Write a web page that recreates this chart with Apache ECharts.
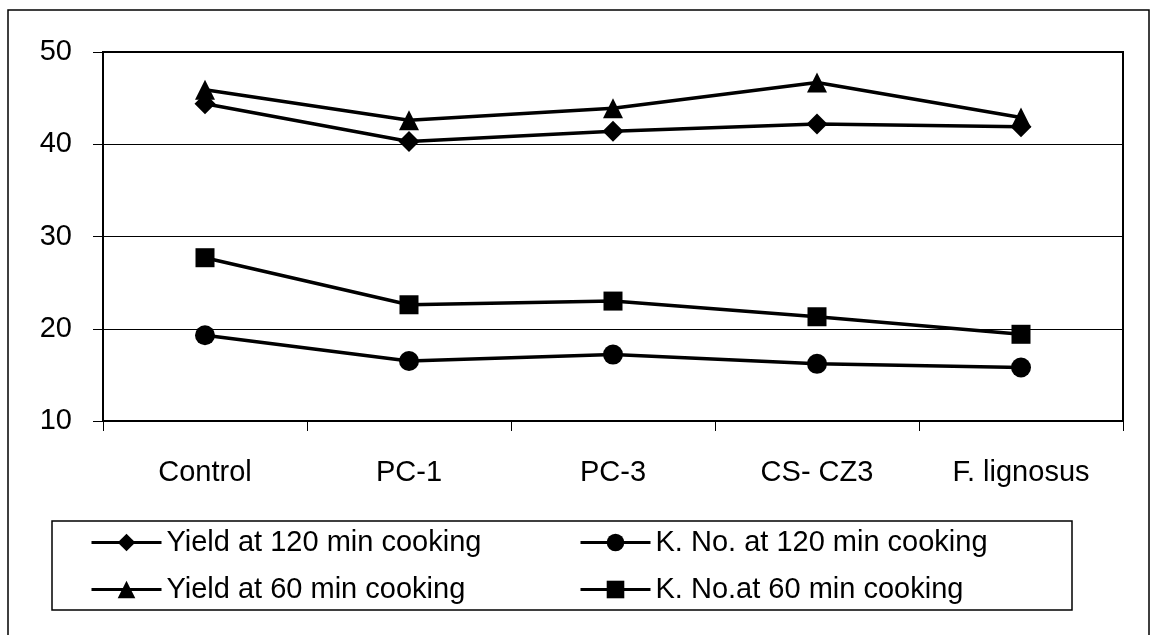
<!DOCTYPE html>
<html>
<head>
<meta charset="utf-8">
<style>
html,body{margin:0;padding:0;background:#fff;}
#chart{width:1156px;height:635px;}
</style>
<script src="https://cdn.jsdelivr.net/npm/echarts@6/dist/echarts.min.js"></script>
</head>
<body>
<div id="chart"></div>
<script>
const categories = ['Control', 'PC-1', 'PC-3', 'CS- CZ3', 'F. lignosus'];
const yield120 = [44.4, 40.3, 41.4, 42.2, 41.9];
const yield60 = [45.9, 42.6, 43.9, 46.7, 42.9];
const kno120 = [19.3, 16.5, 17.2, 16.2, 15.8];
const kno60 = [27.7, 22.6, 23.0, 21.3, 19.4];
const yTicks = {min: 10, max: 50, interval: 10};

const names = {
  y120: 'Yield at 120 min cooking',
  y60: 'Yield at 60 min cooking',
  k120: 'K. No. at 120 min cooking',
  k60: 'K. No.at 60 min cooking'
};

const FONT = 'Liberation Sans, Arial, sans-serif';
const FS = 29;
function lineSeries(name, data, symbol, size) {
  return {
    name: name, type: 'line', data: data,
    symbol: symbol, symbolSize: size,
    itemStyle: {color: '#000'},
    lineStyle: {color: '#000', width: 3.5},
    emphasis: {disabled: true},
    animation: false
  };
}

const chart = echarts.init(document.getElementById('chart'));
const legendCommon = {
  orient: 'vertical', top: 523, itemWidth: 70, itemHeight: 22, itemGap: 18,
  lineStyle: {width: 3, color: '#000'},
  textStyle: {fontFamily: FONT, fontSize: FS, color: '#000'},
  selectedMode: false
};
chart.setOption({
  backgroundColor: '#fff',
  animation: false,
  grid: {left: 103, right: 33, top: 52, bottom: 214, show: true, borderColor: '#000', borderWidth: 2, backgroundColor: 'transparent'},
  xAxis: {
    type: 'category', data: categories, boundaryGap: true,
    axisLine: {lineStyle: {color: '#000', width: 2}},
    axisTick: {show: true, length: 10, lineStyle: {color: '#000', width: 1}},
    axisLabel: {margin: 37, color: '#000', fontFamily: FONT, fontSize: FS}
  },
  yAxis: {
    type: 'value', min: yTicks.min, max: yTicks.max, interval: yTicks.interval,
    axisLine: {show: true, lineStyle: {color: '#000', width: 2}},
    axisTick: {show: true, length: 10, lineStyle: {color: '#000', width: 1}},
    splitLine: {show: true, lineStyle: {color: '#000', width: 1}},
    axisLabel: {margin: 31, color: '#000', fontFamily: FONT, fontSize: FS}
  },
  legend: [
    Object.assign({left: 85, data: [names.y120, names.y60]}, legendCommon),
    Object.assign({left: 574, data: [names.k120, names.k60]}, legendCommon)
  ],
  graphic: [
    {type: 'rect', shape: {x: 8, y: 10, width: 1141, height: 640}, style: {fill: 'none', stroke: '#000', lineWidth: 1.5}, silent: true},
    {type: 'rect', shape: {x: 52, y: 521, width: 1020, height: 89}, style: {fill: 'none', stroke: '#000', lineWidth: 1.5}, silent: true}
  ],
  series: [
    lineSeries(names.y60, yield60, 'triangle', 20),
    lineSeries(names.y120, yield120, 'diamond', 21),
    lineSeries(names.k60, kno60, 'rect', 19),
    lineSeries(names.k120, kno120, 'circle', 20)
  ]
});
</script>
</body>
</html>
